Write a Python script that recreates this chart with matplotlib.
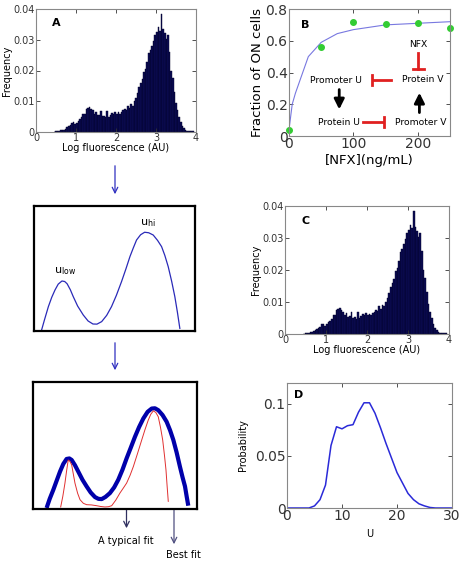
import numpy as np
from matplotlib import pyplot as plt

W, H = 464, 563

# histogram (panels A and C), bin centers and frequencies
bin_w = 0.04
hist_x = np.round(np.arange(0.46, 3.95, 0.04), 2)
hist_y = np.array([
    0.1, 0.2, 0.3, 0.4, 0.5, 0.6, 0.8, 1.1, 1.5, 2.0,
    2.2, 3.0, 3.2, 2.6, 3.0, 3.6, 4.2, 4.8, 6.0, 5.9,
    7.6, 7.8, 8.2, 7.4, 7.0, 6.0, 6.5, 5.4, 5.6, 6.8,
    5.1, 5.2, 4.8, 6.8, 5.0, 5.6, 6.2, 5.8, 6.6, 6.0,
    6.4, 6.0, 6.6, 7.0, 7.6, 7.2, 8.6, 7.8, 9.2, 8.6,
    10.0, 11.2, 12.8, 14.6, 15.8, 17.2, 19.6, 20.5, 22.8, 25.6,
    26.6, 28.0, 29.6, 31.5, 32.5, 34.2, 33.0, 38.5, 33.5, 32.2,
    30.2, 31.5, 26.0, 20.0, 17.5, 13.0, 9.5, 7.0, 5.0, 3.2,
    2.0, 1.2, 0.6, 0.3, 0.2, 0.2, 0.3, 0.2]) * 1e-3

# panel B
nfx_pts = [0, 50, 100, 150, 200, 250]
on_pts = [0.04, 0.56, 0.72, 0.705, 0.71, 0.68]
nfx_fit = [0, 5, 10, 30, 50, 75, 100, 150, 200, 250]
on_fit = [0.04, 0.2, 0.27, 0.50, 0.59, 0.645, 0.67, 0.70, 0.71, 0.72]

# panel D
u_vals = np.arange(0, 31)
u_prob = [0, 0, 0, 0, 0, 0.002, 0.008, 0.022, 0.060, 0.078,
          0.076, 0.079, 0.080, 0.092, 0.101, 0.101, 0.091, 0.077, 0.062, 0.048,
          0.034, 0.024, 0.014, 0.008, 0.004, 0.002, 0.0005, 0, 0, 0, 0]

# schematic curves (box coordinates 0-100)
sk_x = [4.7, 6.5, 8.9, 11, 13, 15, 17.3, 19, 20.5, 22.5, 24.3, 27, 30.5, 33.5,
        36.5, 39, 41.9, 45, 48, 51, 54.2, 57, 59.4, 61.5, 63.5, 66, 68.5, 71,
        73.8, 76.5, 79, 81, 83.1, 85.2, 87.2, 88.8, 90.3]
sk_y = [0.8, 9, 19.5, 27, 32.8, 37.5, 40, 39.6, 37.8, 33, 27.5, 20, 12.8, 8,
        5.6, 5.5, 7.5, 12.5, 19.5, 28.5, 39.5, 50, 59.5, 66.5, 72.8, 77, 79, 78.6,
        76.8, 72.5, 67.5, 60.5, 51.5, 40, 27.5, 15, 2.1]
best_x = [8.1, 10, 12.2, 14.3, 16.3, 18.3, 20.3, 22, 23.4, 25.4, 27.4, 30, 32.5,
          35, 37.6, 39.7, 41.7, 44, 46.7, 49.3, 51.8, 54.4, 56.9, 59.5, 62.0,
          64.5, 67.1, 69.7, 72.2, 74.2, 76.2, 78.8, 81.3, 83.4, 85.4, 87.4, 89.4,
          91, 92.5, 93.5, 94.5]
best_y = [0.8, 8, 15.1, 22.5, 29.5, 35.5, 39.4, 39.8, 38.6, 34.5, 29.5, 23, 17.8,
          13, 9.4, 8, 7.8, 9.5, 12.5, 17, 23.0, 31, 39.9, 48.5, 56.9,
          64.5, 71.3, 76.5, 79.1, 79.3, 77.8, 74, 68.7, 62, 54.3, 44.5, 33.4,
          25, 17.8, 10, 2.6]
typ_x = [16.7, 18, 19.3, 20.3, 21.3, 22.3, 23.4, 24.4, 25.4, 27, 28.5, 30.5, 32.5,
         35.5, 38.6, 41, 43.7, 45.8, 47.8, 50.3, 52.8, 54.9, 56.9, 59, 61.0, 63.5,
         66.1, 68.1, 70.1, 71.6, 73.2, 74.7, 76.2, 77.6, 78.9, 80, 80.9, 81.6, 82.3]
typ_y = [1.6, 10, 20.4, 30, 38.6, 37.5, 34.7, 27.5, 20.4, 12.5, 7.3, 4.5, 3.4,
         3.2, 2.6, 2, 1.6, 1.8, 2.6, 7, 12.5, 16.5, 20.4, 26.5, 33.4, 43.5,
         54.3, 62.5, 70.0, 74.5, 77.3, 76, 72.6, 64, 54.3, 42, 30.8, 18, 6.0]

plt.rcParams['font.family'] = 'DejaVu Sans'
fig = plt.figure(figsize=(W / 100, H / 100), dpi=100)


def pax(l, t, r, b):
    return fig.add_axes([l / W, 1 - b / H, (r - l) / W, (b - t) / H])


def matlab_style(ax, fs):
    ax.tick_params(direction='in', length=3, width=0.6, labelsize=fs, pad=1,
                   top=True, right=True, colors='#333333')
    for s in ax.spines.values():
        s.set_color('#888888')
        s.set_linewidth(0.8)


def hist_panel(ax, letter):
    ax.bar(hist_x, hist_y, width=bin_w, color='#0c0c55', edgecolor='#000028', linewidth=0.3)
    ax.set_xlim(0, 4)
    ax.set_ylim(0, 0.04)
    ax.set_xticks([0, 1, 2, 3, 4])
    ax.set_yticks([0, 0.01, 0.02, 0.03, 0.04])
    ax.set_yticklabels(['0', '0.01', '0.02', '0.03', '0.04'])
    matlab_style(ax, 7)
    ax.set_xlabel('Log fluorescence (AU)', fontsize=7, labelpad=0)
    ax.set_ylabel('Frequency', fontsize=7, labelpad=1)
    ax.text(0.1, 0.86, letter, transform=ax.transAxes, fontsize=8, fontweight='bold')


# A
axA = pax(36, 9, 196, 132)
hist_panel(axA, 'A')

# C
axC = pax(285, 206, 449, 334)
hist_panel(axC, 'C')

# B
axB = pax(289, 9, 450, 136)
axB.plot(nfx_fit, on_fit, color='#7878e0', lw=0.8)
axB.plot(nfx_pts, on_pts, 'o', color='#33cc33', ms=4, clip_on=False)
axB.set_xlim(0, 250)
axB.set_ylim(0, 0.8)
axB.set_xticks([0, 100, 200])
axB.set_yticks([0, 0.2, 0.4, 0.6, 0.8])
axB.set_yticklabels(['0', '0.2', '0.4', '0.6', '0.8'])
matlab_style(axB, 10)
axB.set_xlabel('[NFX](ng/mL)', fontsize=9.5, labelpad=2)
axB.set_ylabel('Fraction of ON cells', fontsize=9.5, labelpad=1)
axB.text(19, 0.68, 'B', fontsize=8, fontweight='bold')
red = '#e02020'
tfs = 6.6
axB.text(201, 0.574, 'NFX', fontsize=tfs, ha='center', va='center')
axB.text(207, 0.353, 'Protein V', fontsize=tfs, ha='center', va='center')
axB.text(73, 0.347, 'Promoter U', fontsize=tfs, ha='center', va='center')
axB.text(77, 0.088, 'Protein U', fontsize=tfs, ha='center', va='center')
axB.text(205, 0.088, 'Promoter V', fontsize=tfs, ha='center', va='center')
# inhibition bars
axB.plot([201, 201], [0.52, 0.425], color=red, lw=2)
axB.plot([192, 210], [0.422, 0.422], color=red, lw=2)
axB.plot([158, 130], [0.353, 0.353], color=red, lw=2)
axB.plot([128.5, 128.5], [0.385, 0.32], color=red, lw=2)
axB.plot([115, 146], [0.088, 0.088], color=red, lw=2)
axB.plot([147.5, 147.5], [0.122, 0.055], color=red, lw=2)
axB.annotate('', xy=(78, 0.15), xytext=(78, 0.31),
             arrowprops=dict(arrowstyle='-|>,head_width=0.3,head_length=0.6', color='black', lw=2))
axB.annotate('', xy=(202.5, 0.29), xytext=(202.5, 0.13),
             arrowprops=dict(arrowstyle='-|>,head_width=0.3,head_length=0.6', color='black', lw=2))

# D
axD = pax(287, 383, 452, 508)
axD.plot(u_vals, u_prob, color='#2a2ad8', lw=1.1)
axD.set_xlim(0, 30)
axD.set_ylim(0, 0.12)
axD.set_xticks([0, 10, 20, 30])
axD.set_yticks([0, 0.05, 0.1])
axD.set_yticklabels(['0', '0.05', '0.1'])
matlab_style(axD, 10)
axD.set_xlabel('U', fontsize=7, labelpad=4)
axD.set_ylabel('Probability', fontsize=7, labelpad=5)
axD.text(1.2, 0.106, 'D', fontsize=8, fontweight='bold')

# middle schematic
axM = pax(34, 206, 195.5, 331)
axM.plot(sk_x, sk_y, color='#2a2ab8', lw=0.9)
axM.text(19.2, 48, r'u$_{\rm low}$', fontsize=8, ha='center', va='center')
axM.text(70.7, 86.5, r'u$_{\rm hi}$', fontsize=8, ha='center', va='center')

# bottom schematic
axF = pax(33.3, 382, 197.3, 509)
axF.plot(best_x, best_y, color='#0000aa', lw=3, solid_capstyle='butt')
axF.plot(typ_x, typ_y, color='#e03030', lw=0.7)

for ax in (axM, axF):
    ax.set_xlim(0, 100)
    ax.set_ylim(0, 100)
    ax.set_xticks([])
    ax.set_yticks([])
    for s in ax.spines.values():
        s.set_color('black')
        s.set_linewidth(1.6)

# overlay in pixel coordinates for the connecting arrows and labels
ov = fig.add_axes([0, 0, 1, 1], zorder=-1)
ov.set_xlim(0, W)
ov.set_ylim(H, 0)
ov.axis('off')
ov.patch.set_alpha(0)
for y0, y1 in [(163, 197), (340, 373)]:
    ov.annotate('', xy=(115, y1), xytext=(115, y0),
                arrowprops=dict(arrowstyle='->,head_width=0.2,head_length=0.4', color='#3030c0', lw=0.9))
ov.annotate('', xy=(126.5, 531), xytext=(126.5, 486),
            arrowprops=dict(arrowstyle='->,head_width=0.2,head_length=0.4', color='#303060', lw=0.9))
ov.annotate('', xy=(174, 547), xytext=(174, 462),
            arrowprops=dict(arrowstyle='->,head_width=0.2,head_length=0.4', color='#505080', lw=0.9))
ov.text(126, 541.5, 'A typical fit', fontsize=7, ha='center', va='center')
ov.text(183, 555, 'Best fit', fontsize=7, ha='center', va='center')

fig.savefig('out.png', dpi=100)
